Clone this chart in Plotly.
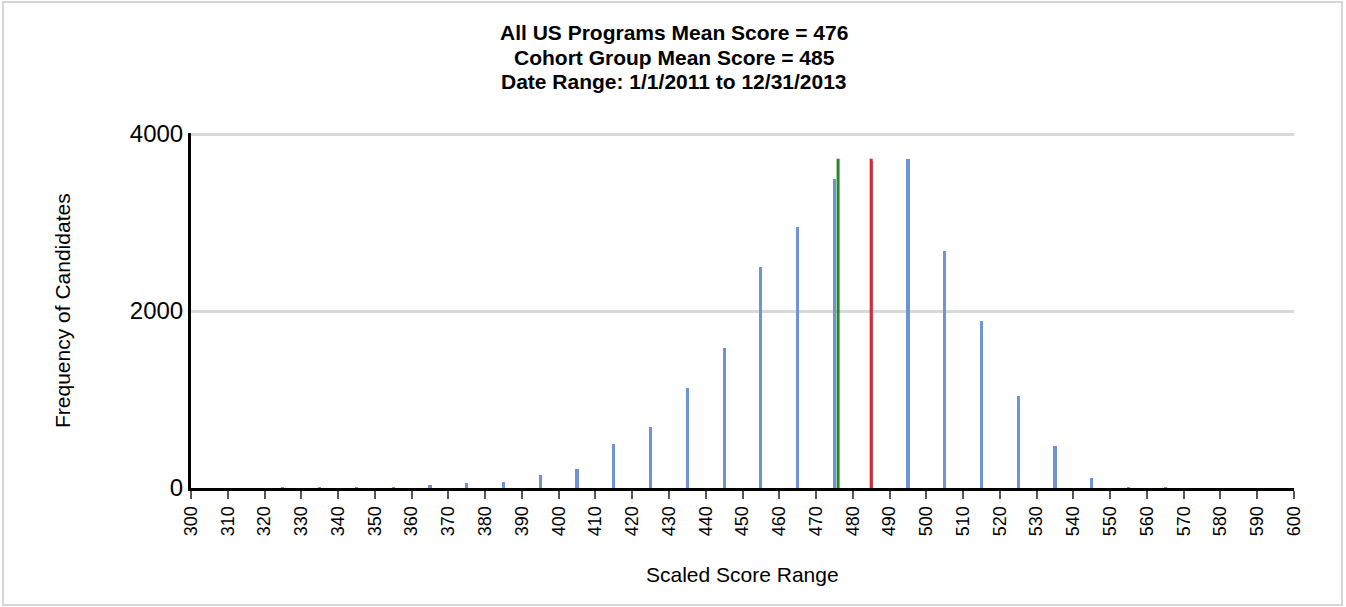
import plotly.graph_objects as go

# ---- data ----
score_bins = [325, 335, 345, 355, 365, 375, 385, 395, 405, 415, 425, 435, 445,
              455, 465, 475, 485, 495, 505, 515, 525, 535, 545, 555, 565]
frequency = [8, 8, 8, 8, 30, 57, 68, 143, 219, 495, 691, 1129, 1579,
             2496, 2945, 3488, 3700, 3720, 2684, 1884, 1038, 480, 113, 10, 10]
all_us_mean = 476
cohort_mean = 485
x_tick_vals = list(range(300, 601, 10))
y_tick_vals = [0, 2000, 4000]
title_lines = ["All US Programs Mean Score = 476",
               "Cohort Group Mean Score = 485",
               "Date Range: 1/1/2011 to 12/31/2013"]

# ---- layout geometry (pixels) ----
W, H = 1346, 607
L, R, T, B = 191, 52, 133, 119
PW, PH = W - L - R, H - T - B


def px_x(px):
    return (px - L) / PW


def px_y(py):
    return (H - B - py) / PH


FONT = "Liberation Sans, Arial, sans-serif"
line_top = max(frequency)

fig = go.Figure()
fig.add_trace(go.Bar(x=score_bins, y=frequency, width=0.85,
                     marker=dict(color="#6f93d6", line=dict(width=0)),
                     showlegend=False, hoverinfo="x+y"))
fig.add_trace(go.Scatter(x=[all_us_mean, all_us_mean], y=[0, line_top],
                         mode="lines", line=dict(color="#23882a", width=3),
                         showlegend=False))
fig.add_trace(go.Scatter(x=[cohort_mean, cohort_mean], y=[0, line_top],
                         mode="lines", line=dict(color="#e0262c", width=3),
                         showlegend=False))

annotations = []
for txt, py in zip(title_lines, [33, 57, 82]):
    annotations.append(dict(text="<b>" + txt + "</b>", xref="paper", yref="paper",
                            x=px_x(674), y=px_y(py), xanchor="center", yanchor="middle",
                            showarrow=False, font=dict(family=FONT, size=21, color="black")))
annotations.append(dict(text="Frequency of Candidates", xref="paper", yref="paper",
                        x=px_x(62), y=px_y(311), xanchor="center", yanchor="middle",
                        textangle=-90, showarrow=False,
                        font=dict(family=FONT, size=21, color="black")))
annotations.append(dict(text="Scaled Score Range", xref="paper", yref="paper",
                        x=px_x(742), y=px_y(574), xanchor="center", yanchor="middle",
                        showarrow=False, font=dict(family=FONT, size=21, color="black")))

fig.update_layout(
    width=W, height=H,
    margin=dict(l=L, r=R, t=T, b=B, autoexpand=False),
    paper_bgcolor="white", plot_bgcolor="white",
    bargap=0,
    annotations=annotations,
    shapes=[dict(type="rect", xref="paper", yref="paper",
                 x0=px_x(3), x1=px_x(1342), y0=px_y(605), y1=px_y(2),
                 line=dict(color="#d6d6d6", width=2), layer="below")],
    xaxis=dict(range=[300, 600], tickvals=x_tick_vals,
               ticktext=[str(v) for v in x_tick_vals],
               tickangle=-90, tickfont=dict(family=FONT, size=18, color="black"),
               ticks="outside", ticklen=8, tickwidth=1.5, tickcolor="#555",
               showline=True, linecolor="black", linewidth=3,
               showgrid=False, zeroline=False, fixedrange=True),
    yaxis=dict(range=[0, 4012], tickvals=y_tick_vals,
               tickfont=dict(family=FONT, size=24, color="black"),
               ticks="", ticklabelstandoff=0,
               showline=True, linecolor="black", linewidth=3,
               showgrid=True, gridcolor="#d9d9d9", gridwidth=3,
               zeroline=False, fixedrange=True),
)

fig.write_html("out.html", config={"displayModeBar": False},
               post_script="document.body.style.margin='0';document.body.style.overflow='hidden';")
